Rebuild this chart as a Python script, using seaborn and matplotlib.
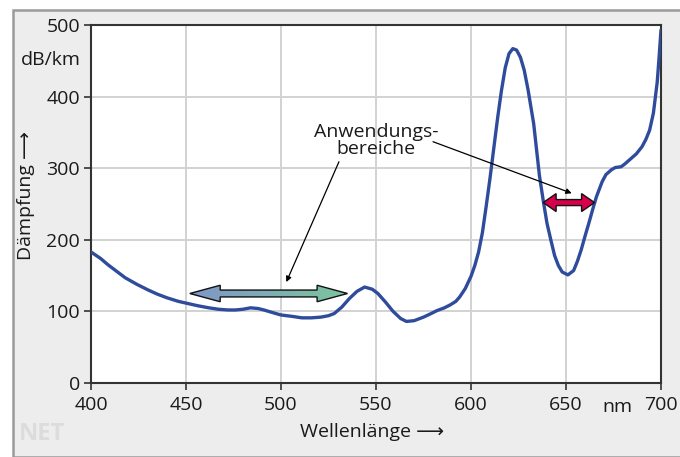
import numpy as np
import pandas as pd
import matplotlib
matplotlib.use("Agg")
import matplotlib.pyplot as plt
import seaborn as sns
from matplotlib.patches import Polygon, Rectangle
from matplotlib.colors import LinearSegmentedColormap

# Dämpfungskurve
wellenlaenge = [400, 405, 409, 414, 418, 424, 430, 435, 440, 446, 451, 456, 462, 467,
                472, 476, 480, 484, 488, 491, 496, 500, 506, 511, 516, 521, 525, 528,
                532, 536, 540, 544, 548, 551, 555, 559, 563, 566, 570, 575, 579, 582,
                586, 589, 592, 594, 597, 600, 602, 604, 606, 608, 610, 612, 614, 616,
                618, 620, 622, 624, 626, 628, 630, 633, 636, 638, 640, 642, 644, 646,
                648, 651, 654, 656, 658, 660, 662, 664, 666, 669, 671, 674, 676, 679,
                681, 684, 687, 690, 692, 694, 696, 698, 699, 700]
daempfung = [183, 174, 165, 155, 147, 138, 130, 124, 119, 114, 111, 108, 105, 103,
             102, 102, 103, 105, 104, 102, 98, 95, 93, 91, 91, 92, 94, 97,
             106, 118, 128, 134, 131, 125, 113, 100, 90, 86, 87, 92, 97, 101,
             105, 109, 114, 120, 132, 149, 164, 183, 210, 247, 286, 328, 370, 408,
             440, 460, 467, 465, 455, 437, 410, 362, 290, 255, 223, 200, 178, 164,
             155, 151, 157, 170, 186, 205, 223, 242, 260, 281, 291, 298, 301, 302,
             306, 313, 320, 330, 340, 353, 377, 420, 455, 493]

x_ticks = [400, 450, 500, 550, 600, 650, 700]
x_ticklabels = ["400", "450", "500", "550", "600", "650", "700"]
y_ticks = [0, 100, 200, 300, 400, 500]

# Anwendungsbereiche
bereich_1 = (452, 535, 125)   # von, bis, Höhe
bereich_2 = (638, 665, 252)
text_pos = (550, 339)
pfeil_1 = (502.8, 141)
pfeil_2 = (653, 265)

df = pd.DataFrame({"nm": wellenlaenge, "dB": daempfung})

sns.set_theme(style="white")
plt.rcParams["font.family"] = ["Open Sans", "DejaVu Sans"]
fs = 14

fig = plt.figure(figsize=(6.8, 4.57), dpi=100, facecolor="white")
fig.patches.append(Rectangle((13 / 680, 0), 1, 1 - 10 / 457, transform=fig.transFigure,
                             facecolor="#ededed", edgecolor="#9a9a9a", linewidth=1.8,
                             zorder=-10))
ax = fig.add_axes([91 / 680, 1 - 383 / 457, 570 / 680, 358 / 457])
ax.set_facecolor("white")

ax.grid(True, color="#d2d2d2", linewidth=1.4)
ax.set_axisbelow(True)

sns.lineplot(data=df, x="nm", y="dB", ax=ax, color="#2f4b9c", linewidth=2.4, zorder=5,
             solid_joinstyle="round", solid_capstyle="round")

ax.set_xlim(400, 700)
ax.set_ylim(0, 500)
ax.set_xticks(x_ticks)
ax.set_xticklabels(x_ticklabels)
ax.set_yticks(y_ticks)
ax.set_xlabel("")
ax.set_ylabel("")
ax.tick_params(axis="both", direction="out", length=5, width=1.2, color="#333333",
               labelsize=fs, labelcolor="#1a1a1a", left=True, bottom=True)
ax.tick_params(axis="x", pad=4)
ax.tick_params(axis="y", pad=3)
for s in ax.spines.values():
    s.set_color("#333333")
    s.set_linewidth(1.5)


def doppelpfeil(x0, x1, y, kopf_l, kopf_h, schaft_h):
    return [(x0, y), (x0 + kopf_l, y + kopf_h), (x0 + kopf_l, y + schaft_h),
            (x1 - kopf_l, y + schaft_h), (x1 - kopf_l, y + kopf_h), (x1, y),
            (x1 - kopf_l, y - kopf_h), (x1 - kopf_l, y - schaft_h),
            (x0 + kopf_l, y - schaft_h), (x0 + kopf_l, y - kopf_h)]


# Pfeil 1 mit Farbverlauf
x0, x1, y = bereich_1
poly = Polygon(doppelpfeil(x0, x1, y, 16, 11.5, 4.8), closed=True, facecolor="none",
               edgecolor="#111111", linewidth=1.0, zorder=7)
ax.add_patch(poly)
cmap = LinearSegmentedColormap.from_list("verlauf", ["#8096c8", "#7cc59f"])
img = ax.imshow(np.linspace(0, 1, 100).reshape(1, -1), cmap=cmap, aspect="auto",
                extent=(x0, x1, y - 12, y + 12), zorder=6)
img.set_clip_path(poly)
ax.set_xlim(400, 700)
ax.set_ylim(0, 500)

# Pfeil 2 rot
x0, x1, y = bereich_2
ax.add_patch(Polygon(doppelpfeil(x0, x1, y, 6.8, 12.5, 4.2), closed=True,
                     facecolor="#d8004b", edgecolor="#111111", linewidth=1.0, zorder=7))

ax.text(text_pos[0], text_pos[1], "Anwendungs-\nbereiche", ha="center", va="center",
        fontsize=fs, color="#1a1a1a", linespacing=0.95, zorder=8)
ax.annotate("", xy=pfeil_1, xytext=(530.5, 309),
            arrowprops=dict(arrowstyle="-|>", color="black", lw=0.9,
                            mutation_scale=8, shrinkA=0, shrinkB=0), zorder=8)
ax.annotate("", xy=pfeil_2, xytext=(580, 337),
            arrowprops=dict(arrowstyle="-|>", color="black", lw=0.9,
                            mutation_scale=8, shrinkA=0, shrinkB=0), zorder=8)

# Achsenbeschriftungen
fig.text(81 / 680, 1 - 60 / 457, "dB/km", ha="right", va="center", fontsize=fs, color="#1a1a1a")
fig.text(26 / 680, 1 - 195 / 457, "Dämpfung ⟶", rotation=90, ha="center", va="center",
         fontsize=fs, color="#1a1a1a")
fig.text(300 / 680, 1 - 432 / 457, "Wellenlänge ⟶", ha="left", va="center", fontsize=fs,
         color="#1a1a1a")
fig.text(617 / 680, 1 - 407 / 457, "nm", ha="center", va="center", fontsize=fs, color="#1a1a1a")
fig.text(19 / 680, 1 - 434 / 457, "NET", ha="left", va="center", fontsize=17,
         color="#dcdcdc", fontweight="bold")

fig.savefig("out.png", dpi=100, facecolor=fig.get_facecolor())
